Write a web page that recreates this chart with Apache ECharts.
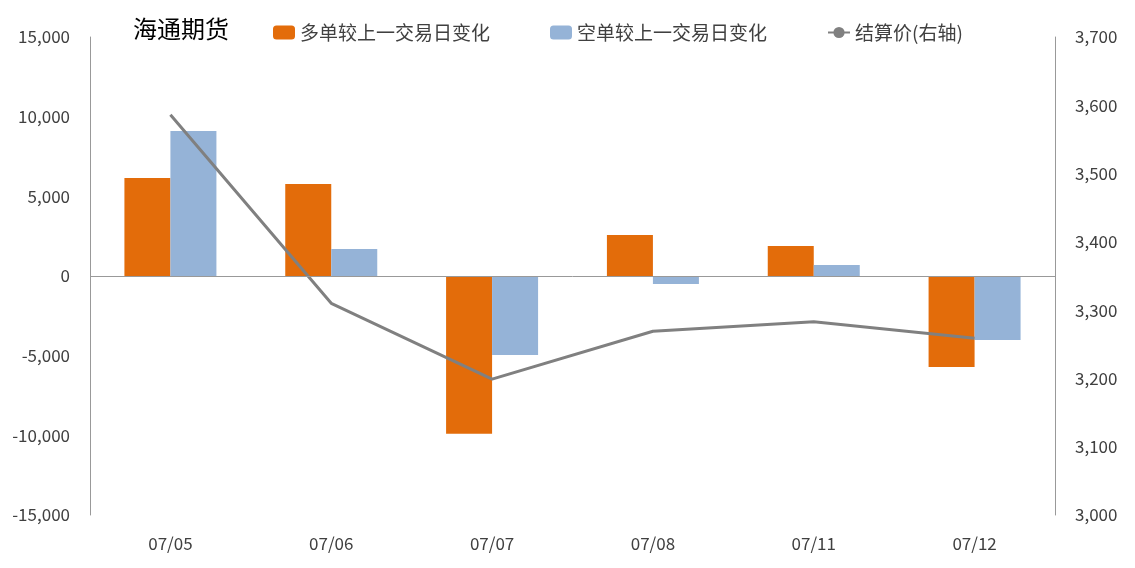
<!DOCTYPE html>
<html>
<head>
<meta charset="utf-8">
<script src="https://cdn.jsdelivr.net/npm/echarts@6/dist/echarts.min.js"></script>
<style>html,body{margin:0;padding:0;background:#fff}#chart{width:1135px;height:568px}</style>
</head>
<body>
<div id="chart"></div>
<script>
const categories = ['07/05', '07/06', '07/07', '07/08', '07/11', '07/12'];
const longChange = [6150, 5780, -9900, 2570, 1880, -5710];
const shortChange = [9100, 1700, -4960, -500, 690, -4020];
const settlePrice = [3586, 3310, 3199, 3269, 3283, 3259];

const chart = echarts.init(document.getElementById('chart'));
const font = 'Microsoft YaHei, "Noto Sans CJK SC", sans-serif';

chart.setOption({
    animation: false,
    textStyle: { fontFamily: font },
    title: {
        text: '海通期货', left: 128, top: 12,
        textStyle: { fontSize: 24, fontWeight: 'normal', color: '#000', fontFamily: font }
    },
    legend: {
        top: 18, left: 268, itemGap: 60, itemWidth: 22, itemHeight: 14,
        textStyle: { fontSize: 19, color: '#404040' },
        data: ['多单较上一交易日变化', '空单较上一交易日变化', '结算价(右轴)']
    },
    grid: { left: 90, right: 80, top: 37, bottom: 53 },
    xAxis: {
        type: 'category', data: categories,
        axisLine: { show: false }, axisTick: { show: false },
        axisLabel: { fontSize: 17, color: '#404040', margin: 20 }
    },
    yAxis: [{
        type: 'value', min: -15000, max: 15000, interval: 5000,
        splitLine: { show: false },
        axisLine: { show: true, lineStyle: { color: '#999' } },
        axisLabel: { fontSize: 17, color: '#404040', margin: 20 }
    }, {
        type: 'value', min: 3000, max: 3700, interval: 100,
        splitLine: { show: false },
        axisLine: { show: true, lineStyle: { color: '#999' } },
        axisLabel: { fontSize: 17, color: '#404040', margin: 20 }
    }],
    series: [{
        name: '多单较上一交易日变化', type: 'bar', data: longChange,
        barWidth: 46, barGap: '0%', itemStyle: { color: '#E36C0A' },
        markLine: {
            silent: true, symbol: 'none', label: { show: false },
            lineStyle: { color: '#999', type: 'solid', width: 1 },
            data: [{ yAxis: 0 }]
        }
    }, {
        name: '空单较上一交易日变化', type: 'bar', data: shortChange,
        barWidth: 46, itemStyle: { color: '#95B3D7' }
    }, {
        name: '结算价(右轴)', type: 'line', yAxisIndex: 1, data: settlePrice,
        symbol: 'none', lineStyle: { color: '#808080', width: 3 }, itemStyle: { color: '#808080' }
    }]
});
</script>
</body>
</html>
